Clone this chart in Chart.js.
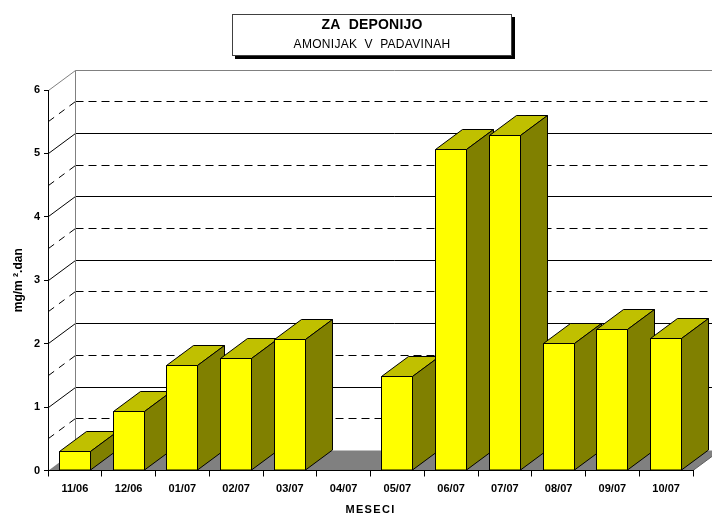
<!DOCTYPE html>
<html>
<head>
<meta charset="utf-8">
<script src="https://cdn.jsdelivr.net/npm/chart.js@4/dist/chart.umd.min.js"></script>
<style>
  html, body { margin: 0; padding: 0; background: #ffffff; }
  #wrap { width: 712px; height: 517px; }
</style>
</head>
<body>
<div id="wrap"><canvas id="c" width="712" height="517"></canvas></div>
<script>
// Monthly ammonia in precipitation at the landfill site (mg/m2 per day)
const months = ['11/06', '12/06', '01/07', '02/07', '03/07', '04/07', '05/07', '06/07', '07/07', '08/07', '09/07', '10/07'];
const ammonia = [0.30, 0.93, 1.65, 1.77, 2.06, null, 1.49, 5.06, 5.28, 2.01, 2.22, 2.08];
const yTicks = [0, 1, 2, 3, 4, 5, 6];
const chartTitle = 'ZA  DEPONIJO';
const chartSubtitle = 'AMONIJAK  V  PADAVINAH';
const yTitle = 'mg/m ².dan';
const xTitle = 'MESECI';

const FONT = '"Liberation Sans", Arial, Helvetica, sans-serif';
const DEPTH_X = 27;   // 3D depth offset (to the right)
const DEPTH_Y = -20;  // 3D depth offset (upwards)
const crisp = v => Math.floor(v) + 0.5;

// Walls, floor and wall gridlines, painted under the axes
const wallsPlugin = {
  id: 'walls3d',
  beforeDraw(chart) {
    const ctx = chart.ctx;
    const ys = chart.scales.y;
    const area = chart.chartArea;
    const L = crisp(area.left);
    const R = area.right;
    const B = crisp(ys.getPixelForValue(yTicks[0]));
    const T = crisp(ys.getPixelForValue(yTicks[yTicks.length - 1]));
    const BL = L + DEPTH_X;
    const far = R + DEPTH_X;
    ctx.save();
    ctx.fillStyle = '#ffffff';
    ctx.fillRect(0, 0, chart.width, chart.height);

    // floor
    ctx.fillStyle = '#808080';
    ctx.beginPath();
    ctx.moveTo(L, B);
    ctx.lineTo(BL, B + DEPTH_Y);
    ctx.lineTo(far, B + DEPTH_Y);
    ctx.lineTo(R, B);
    ctx.closePath();
    ctx.fill();
    ctx.strokeStyle = '#606060';
    ctx.lineWidth = 1;
    ctx.beginPath();
    ctx.moveTo(R, B);
    ctx.lineTo(far, B + DEPTH_Y);
    ctx.stroke();

    // gridlines on back wall and side wall: solid at whole units, dashed at halves
    const maxV = yTicks[yTicks.length - 1];
    for (let v = 0.5; v < maxV; v += 0.5) {
      const y = crisp(ys.getPixelForValue(v));
      const whole = Math.abs(v - Math.round(v)) < 1e-6;
      ctx.strokeStyle = '#000000';
      ctx.lineWidth = 1;
      ctx.setLineDash(whole ? [] : [8, 5]);
      ctx.beginPath();
      ctx.moveTo(BL, y + DEPTH_Y);
      ctx.lineTo(far, y + DEPTH_Y);
      ctx.stroke();
      ctx.setLineDash(whole ? [] : [7, 6]);
      ctx.beginPath();
      ctx.moveTo(L, y);
      ctx.lineTo(BL, y + DEPTH_Y);
      ctx.stroke();
    }
    ctx.setLineDash([]);

    // wall outline
    ctx.strokeStyle = '#808080';
    ctx.beginPath();
    ctx.moveTo(L, T);
    ctx.lineTo(BL, T + DEPTH_Y);
    ctx.lineTo(far, T + DEPTH_Y);
    ctx.moveTo(BL, T + DEPTH_Y);
    ctx.lineTo(BL, B + DEPTH_Y);
    ctx.stroke();
    ctx.restore();
  },
  // 3D columns built from the bar elements laid out by the scales
  afterDatasetsDraw(chart) {
    const ctx = chart.ctx;
    const meta = chart.getDatasetMeta(0);
    ctx.save();
    ctx.lineWidth = 1;
    ctx.strokeStyle = '#000000';
    ctx.lineJoin = 'miter';
    meta.data.forEach((bar, i) => {
      if (ammonia[i] === null || ammonia[i] === undefined) return;
      const p = bar.getProps(['x', 'y', 'width', 'base'], true);
      const l = crisp(p.x - p.width / 2);
      const r = crisp(p.x + p.width / 2);
      const t = crisp(p.y);
      const b = p.base;
      // front face
      ctx.fillStyle = '#ffff00';
      ctx.beginPath();
      ctx.rect(l, t, r - l, b - t);
      ctx.fill();
      ctx.stroke();
      // top face
      ctx.fillStyle = '#c0c000';
      ctx.beginPath();
      ctx.moveTo(l, t);
      ctx.lineTo(l + DEPTH_X, t + DEPTH_Y);
      ctx.lineTo(r + DEPTH_X, t + DEPTH_Y);
      ctx.lineTo(r, t);
      ctx.closePath();
      ctx.fill();
      ctx.stroke();
      // side face
      ctx.fillStyle = '#808000';
      ctx.beginPath();
      ctx.moveTo(r, t);
      ctx.lineTo(r + DEPTH_X, t + DEPTH_Y);
      ctx.lineTo(r + DEPTH_X, b + DEPTH_Y);
      ctx.lineTo(r, b);
      ctx.closePath();
      ctx.fill();
      ctx.stroke();
    });
    ctx.restore();
  },
  // title box and axis titles
  afterDraw(chart) {
    const ctx = chart.ctx;
    const area = chart.chartArea;
    const ys = chart.scales.y;
    ctx.save();
    // boxed title with drop shadow
    const bx = 232, by = 14, bw = 280, bh = 42;
    ctx.fillStyle = '#000000';
    ctx.fillRect(bx + 3, by + 3, bw, bh);
    ctx.fillStyle = '#ffffff';
    ctx.fillRect(bx, by, bw, bh);
    ctx.strokeStyle = '#404040';
    ctx.lineWidth = 1;
    ctx.strokeRect(bx + 0.5, by + 0.5, bw - 1, bh - 1);
    ctx.fillStyle = '#000000';
    ctx.textAlign = 'center';
    ctx.textBaseline = 'alphabetic';
    ctx.letterSpacing = '0.2px';
    ctx.font = 'bold 14px ' + FONT;
    ctx.fillText(chartTitle, bx + bw / 2, by + 15);
    ctx.letterSpacing = '0.3px';
    ctx.font = '12px ' + FONT;
    ctx.fillText(chartSubtitle, bx + bw / 2, by + 34);

    // x axis title
    ctx.letterSpacing = '1.3px';
    ctx.font = 'bold 11px ' + FONT;
    ctx.fillText(xTitle, (area.left + area.right) / 2, 513);

    // y axis title
    ctx.letterSpacing = '0px';
    ctx.font = 'bold 12px ' + FONT;
    ctx.translate(22, (ys.top + ys.bottom) / 2);
    ctx.rotate(-Math.PI / 2);
    ctx.fillText(yTitle, 0, 0);
    ctx.restore();
  }
};

const tickFont = { family: FONT, size: 11, weight: 'bold' };

new Chart(document.getElementById('c'), {
  type: 'bar',
  data: {
    labels: months,
    datasets: [{
      data: ammonia,
      backgroundColor: 'rgba(0,0,0,0)',
      borderWidth: 0,
      barPercentage: 0.577,
      categoryPercentage: 1.0
    }]
  },
  options: {
    responsive: false,
    animation: false,
    devicePixelRatio: 1,
    layout: { padding: { top: 90, right: 19, left: 0, bottom: 0 } },
    plugins: {
      legend: { display: false },
      title: { display: false },
      tooltip: { enabled: false }
    },
    scales: {
      x: {
        offset: true,
        grid: { offset: true, drawOnChartArea: false, drawTicks: true, tickLength: 6, color: '#000000', lineWidth: 1 },
        border: { display: true, color: '#000000', width: 1 },
        ticks: { font: tickFont, color: '#000000', padding: 6, maxRotation: 0, autoSkip: false },
        afterFit(scale) { scale.height = 46.5; }
      },
      y: {
        min: yTicks[0],
        max: yTicks[yTicks.length - 1],
        afterBuildTicks(scale) { scale.ticks = yTicks.map(v => ({ value: v })); },
        grid: { drawOnChartArea: false, drawTicks: true, tickLength: 4, color: '#000000', lineWidth: 1 },
        border: { display: true, color: '#000000', width: 1 },
        ticks: { font: tickFont, color: '#000000', padding: 4 },
        afterFit(scale) { scale.width = 48; }
      }
    }
  },
  plugins: [wallsPlugin]
});
</script>
</body>
</html>
